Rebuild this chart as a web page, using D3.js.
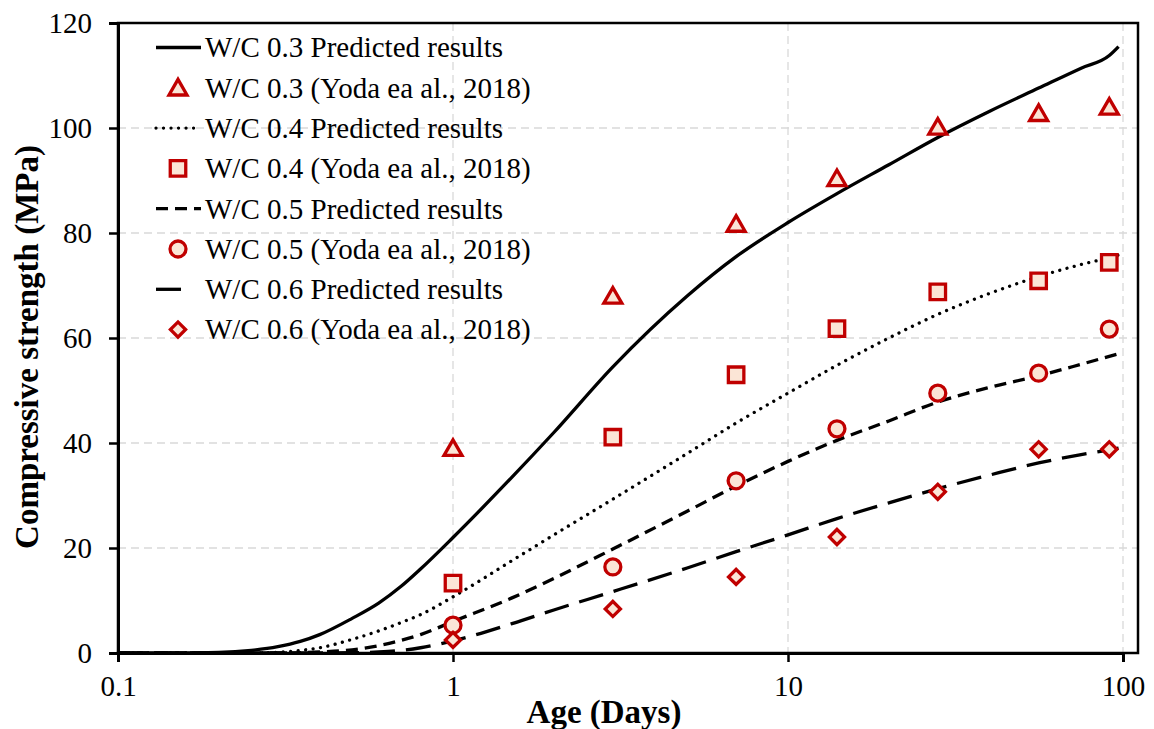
<!DOCTYPE html>
<html>
<head>
<meta charset="utf-8">
<script src="https://cdn.jsdelivr.net/npm/d3@7"></script>
<style>
  body { margin: 0; background: #fff; }
  text { font-family: "Liberation Serif", "Times New Roman", serif; }
</style>
</head>
<body>
<div id="chart"></div>
<script>
// age (days) at which the predicted curves are sampled
const days = [0.1, 0.15, 0.2, 0.25, 0.3, 0.35, 0.4, 0.5, 0.6, 0.7, 0.8, 1, 1.5, 2, 3, 5, 7, 10, 14, 20, 28, 40, 56, 75, 91, 97];
const pred03 = [0, 0, 0.1, 0.5, 1.2, 2.2, 3.5, 6.6, 9.5, 12.7, 16, 22, 33.5, 42, 54.5, 68, 75.5, 82, 87.5, 93, 98.2, 103.2, 107.6, 111.4, 113.8, 115.5];
const pred04 = [0, 0, 0, 0, 0.15, 0.5, 1, 2.6, 4.2, 5.8, 7.3, 10.7, 17.6, 22.5, 29.3, 38, 43.8, 49.5, 54.8, 60, 64.5, 68.5, 71.7, 74, 75.3, 75.8];
const pred05 = [0, 0, 0, 0, 0, 0.05, 0.2, 0.6, 1.4, 2.4, 3.5, 6, 10.5, 14.2, 19.8, 27, 31.8, 36.5, 40.5, 44.2, 47.8, 50.6, 52.8, 55, 56.5, 57];
const pred06 = [0, 0, 0, 0, 0, 0, 0, 0.05, 0.2, 0.5, 1, 2.3, 5.6, 8.2, 11.7, 16.2, 19.3, 22.5, 25.6, 28.6, 31.3, 33.9, 36.2, 37.8, 38.7, 39];

// measured ages and strengths (Yoda et al.)
const testDays = [1, 3, 7, 14, 28, 56, 91];
const exp03 = [39, 68, 81.7, 90.4, 100.2, 102.8, 104];
const exp04 = [13.3, 41.1, 53, 61.8, 68.8, 70.9, 74.4];
const exp05 = [5.3, 16.4, 32.8, 42.7, 49.5, 53.3, 61.7];
const exp06 = [2.5, 8.4, 14.5, 22.1, 30.7, 38.8, 38.8];

const xTicks = [0.1, 1, 10, 100];
const yTicks = [0, 20, 40, 60, 80, 100, 120];

const width = 1154, height = 729;
const red = "#C00000", peach = "#FBE5D6";

const svg = d3.select("#chart").append("svg").attr("width", width).attr("height", height);

const x = d3.scaleLog().domain([0.1, 100]).range([118, 1123]);
const y = d3.scaleLinear().domain([0, 120]).range([653, 23]);
const plotRight = 1138;

// gridlines
const grid = svg.append("g").attr("stroke", "#d9d9d9").attr("stroke-width", 1.3).attr("stroke-dasharray", "8,5");
grid.selectAll(".gy").data(yTicks.slice(1, -1)).enter().append("line")
  .attr("x1", x(0.1)).attr("x2", plotRight).attr("y1", d => y(d)).attr("y2", d => y(d));
grid.selectAll(".gx").data(xTicks.slice(1)).enter().append("line")
  .attr("x1", d => x(d)).attr("x2", d => x(d)).attr("y1", y(120)).attr("y2", y(0));

// plot frame
svg.append("rect").attr("x", x(0.1)).attr("y", y(120))
  .attr("width", plotRight - x(0.1)).attr("height", y(0) - y(120))
  .attr("fill", "none").attr("stroke", "#000").attr("stroke-width", 2.5);

// axes
const xAxis = d3.axisBottom(x).tickValues(xTicks).tickFormat(d3.format("")).tickSize(9).tickPadding(13);
const yAxis = d3.axisLeft(y).tickValues(yTicks).tickSize(9).tickPadding(17);

const gx = svg.append("g").attr("transform", `translate(0,${y(0)})`).call(xAxis);
const gy = svg.append("g").attr("transform", `translate(${x(0.1)},0)`).call(yAxis);
[gx, gy].forEach(g => {
  g.select(".domain").attr("stroke", "#000").attr("stroke-width", 3);
  g.selectAll(".tick line").attr("stroke", "#000").attr("stroke-width", 2.5);
  g.selectAll(".tick text").attr("fill", "#000").style("font-family", "Liberation Serif").style("font-size", "29px");
});
gy.selectAll(".tick text").attr("dy", "0.34em");

// axis titles
svg.append("text").attr("x", 604).attr("y", 723).attr("text-anchor", "middle")
  .style("font-size", "33px").style("font-weight", "bold").text("Age (Days)");
svg.append("text").attr("transform", "translate(38,347) rotate(-90)").attr("text-anchor", "middle")
  .style("font-size", "33px").style("font-weight", "bold").text("Compressive strength (MPa)");

// predicted curves
const lineStyles = [
  { data: pred03, dash: null, cap: "butt" },
  { data: pred04, dash: "0.01,7.5", cap: "round" },
  { data: pred05, dash: "12,7", cap: "butt" },
  { data: pred06, dash: "25,11", cap: "butt" }
];
const line = d3.line().x((d, i) => x(days[i])).y(d => y(d)).curve(d3.curveMonotoneX);
lineStyles.forEach(s => {
  svg.append("path").datum(s.data).attr("d", line)
    .attr("fill", "none").attr("stroke", "#000").attr("stroke-width", 3.3)
    .attr("stroke-linecap", s.cap).attr("stroke-dasharray", s.dash);
});

// markers (diamond = square turned 45 degrees)
const symbols = [
  { sym: d3.symbol().type(d3.symbolTriangle).size(140), rot: 0, dy: 2 },
  { sym: d3.symbol().type(d3.symbolSquare).size(240), rot: 0, dy: 0 },
  { sym: d3.symbol().type(d3.symbolCircle).size(200), rot: 0, dy: 0 },
  { sym: d3.symbol().type(d3.symbolSquare).size(115), rot: 45, dy: 0 }
];
const expSeries = [exp03, exp04, exp05, exp06];
expSeries.forEach((vals, k) => {
  const m = symbols[k];
  svg.append("g").selectAll("path").data(vals).enter().append("path")
    .attr("d", m.sym)
    .attr("transform", (d, i) => `translate(${x(testDays[i])},${y(d) + m.dy}) rotate(${m.rot})`)
    .attr("fill", peach).attr("stroke", red).attr("stroke-width", 3.3);
});

// legend
const legendNames = [
  "W/C 0.3 Predicted results", "W/C 0.3 (Yoda ea al., 2018)",
  "W/C 0.4 Predicted results", "W/C 0.4 (Yoda ea al., 2018)",
  "W/C 0.5 Predicted results", "W/C 0.5 (Yoda ea al., 2018)",
  "W/C 0.6 Predicted results", "W/C 0.6 (Yoda ea al., 2018)"
];
const legend = svg.append("g");
legendNames.forEach((name, i) => {
  const ly = 47.5 + i * 40.3;
  const k = Math.floor(i / 2);
  if (i % 2 === 0) {
    const s = lineStyles[k];
    legend.append("line").attr("x1", 156).attr("x2", k === 3 ? 190 : 201).attr("y1", ly).attr("y2", ly)
      .attr("stroke", "#000").attr("stroke-width", 3.3)
      .attr("stroke-linecap", s.cap).attr("stroke-dasharray", s.dash);
  } else {
    const m = symbols[k];
    legend.append("path").attr("d", m.sym)
      .attr("transform", `translate(178,${ly + m.dy}) rotate(${m.rot})`)
      .attr("fill", peach).attr("stroke", red).attr("stroke-width", 3.3);
  }
  legend.append("text").attr("x", 205).attr("y", ly).attr("dy", "0.34em")
    .style("font-size", "29px").attr("fill", "#000").text(name);
});
</script>
</body>
</html>
